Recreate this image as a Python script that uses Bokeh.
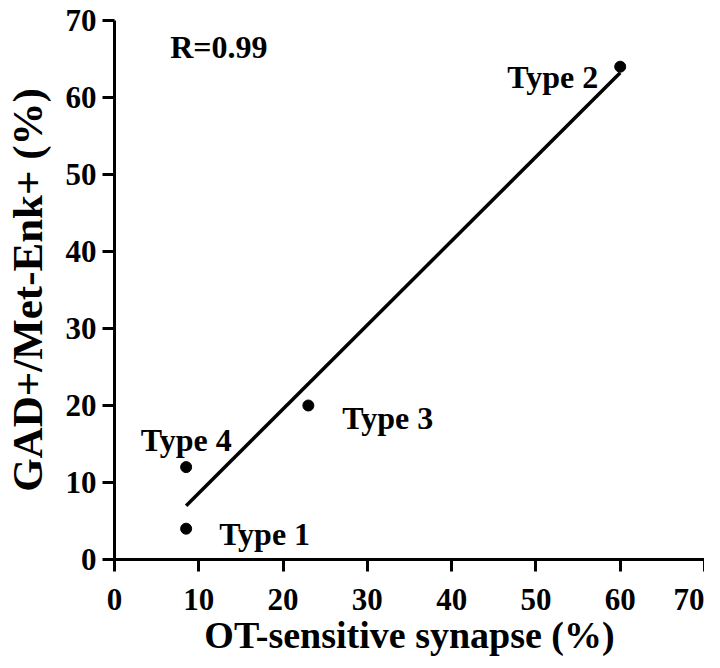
import numpy as np
from bokeh.plotting import figure
from bokeh.models import ColumnDataSource, FixedTicker, Label
from bokeh.core.properties import value
from bokeh.embed import file_html
from bokeh.resources import INLINE

# ---- data ----
types = ["Type 1", "Type 4", "Type 3", "Type 2"]
ot_sensitive = [8.5, 8.5, 23.0, 60.0]        # x, %
gad_metenk = [4.0, 12.0, 20.0, 64.0]         # y, %
r_text = "R=0.99"
tick_values = [0, 10, 20, 30, 40, 50, 60, 70]
x_title = "OT-sensitive synapse (%)"
y_title = "GAD+/Met-Enk+ (%)"

# label placement (screen pixel offsets, style only)
label_dx = [33, 0, 34, -22]
label_dy = [5, -27, 12, 10]
label_align = ["left", "center", "left", "right"]

FONT = "Liberation Serif"
INK = "#000000"

p = figure(width=704, height=660, x_range=(0, 70), y_range=(0, 70),
           output_backend="svg", toolbar_location=None,
           min_border_left=108, min_border_right=0,
           min_border_top=20, min_border_bottom=101)
p.outline_line_color = None
p.grid.visible = False
p.background_fill_color = "white"
p.border_fill_color = "white"

for ax in (p.xaxis, p.yaxis):
    ax.ticker = FixedTicker(ticks=tick_values)
    ax.axis_line_width = 3
    ax.axis_line_color = INK
    ax.major_tick_line_width = 3
    ax.major_tick_line_color = INK
    ax.major_tick_out = 12
    ax.major_tick_in = 0
    ax.minor_tick_line_color = None
    ax.major_label_text_font = FONT
    ax.major_label_text_font_style = "bold"
    ax.major_label_text_font_size = "31px"
    ax.major_label_text_color = INK
    ax.major_label_standoff = 6
    ax.axis_label_text_font = FONT
    ax.axis_label_text_font_style = "bold"
    ax.axis_label_text_color = INK

p.xaxis.major_label_standoff = 17
p.xaxis.axis_label = x_title
p.xaxis.axis_label_text_font_size = "38px"
p.xaxis.axis_label_standoff = 1
p.yaxis.axis_label = y_title
p.yaxis.axis_label_text_font_size = "43px"
p.yaxis.axis_label_standoff = 12

# regression line from the data
slope, intercept = np.polyfit(ot_sensitive, gad_metenk, 1)
x_fit = [min(ot_sensitive), max(ot_sensitive)]
y_fit = [slope * v + intercept for v in x_fit]
p.line(x_fit, y_fit, line_width=3.5, line_color=INK)

src = ColumnDataSource(dict(x=ot_sensitive, y=gad_metenk, t=types,
                            dx=label_dx, dy=label_dy, al=label_align))
p.scatter("x", "y", source=src, size=11, fill_color=INK, line_color=INK)
p.text("x", "y", text="t", source=src, x_offset="dx", y_offset="dy",
       text_align="al", text_baseline="alphabetic",
       text_font=value(FONT), text_font_style="bold",
       text_font_size="32px", text_color=INK)

p.add_layout(Label(x=6.6, y=66.5, text=r_text, text_font=FONT,
                   text_font_style="bold", text_font_size="32px",
                   text_color=INK, text_baseline="alphabetic"))

open("out.html", "w").write(file_html(p, INLINE))
